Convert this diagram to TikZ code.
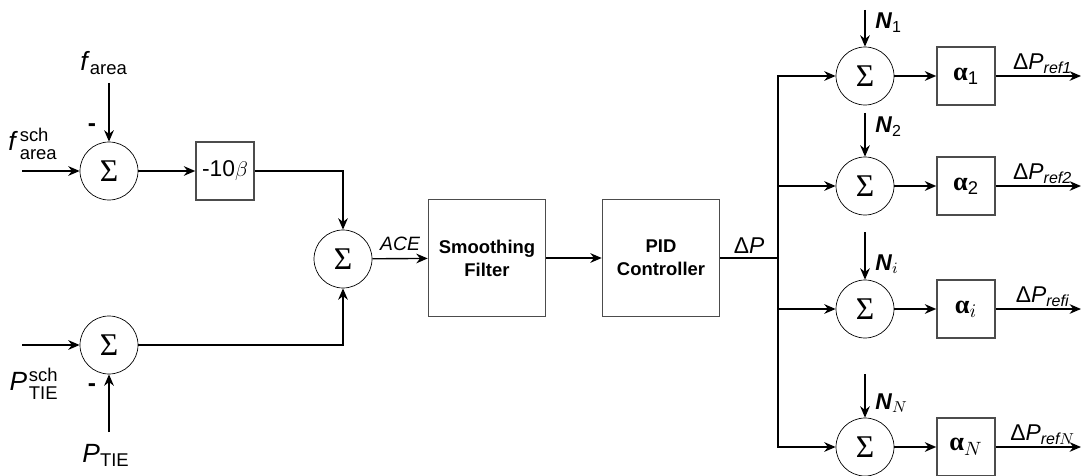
\documentclass[tikz,border=0pt]{standalone}
\usepackage{amsmath,amssymb}
\usepackage{fontspec}
\setmainfont{Liberation Sans}
\newfontfamily\serifgr{Liberation Serif}
\usepackage{tikz}
\usetikzlibrary{arrows.meta}

\begin{document}
\begin{tikzpicture}[>={Stealth[length=6.5pt,width=5.5pt]},x=0.02cm,y=-0.02cm,
  sumc/.style={draw,circle,minimum size=1.16cm,inner sep=0pt,
    font=\serifgr\fontsize{18}{20}\selectfont},
  blk/.style={draw=black!70,line width=0.9pt,minimum size=1.16cm,inner sep=0pt},
  bigblk/.style={draw=black!70,line width=0.9pt,minimum size=2.34cm,inner sep=0pt,
    align=center,font=\fontsize{10.5}{13}\selectfont\bfseries},
  sig/.style={->,line width=0.8pt},
  wire/.style={line width=0.8pt},
  lab/.style={font=\fontsize{15}{17}\selectfont,inner sep=0pt},
  slab/.style={font=\fontsize{13}{15}\selectfont,inner sep=0pt},
  gain/.style={blk,font=\fontsize{15}{17}\selectfont}]
  \useasboundingbox (0,0) rectangle (1081,476);
  % area control error part
  \node[sumc] (sumF) at (109,171) {Σ};
  \node[sumc] (sumP) at (109,345) {Σ};
  \node[sumc] (sumA) at (343,259) {Σ};
  \node[blk,font=\fontsize{13}{15}\selectfont] (gainB) at (225,171) {-10$\beta$};
  \node[bigblk] (filt) at (487,258) {Smoothing\\Filter};
  \node[bigblk] (pid) at (661,258) {PID\\Controller};
  \node[lab] (fArea) at (104,63) {\textit{f}$_{\text{area}}$};
  \node[lab] (fSch) at (33,144) {\textit{f}\kern1pt$^{\text{sch}}_{\text{\raisebox{-1.5pt}{area}}}$};
  \node[lab] (pSch) at (34,384) {\textit{P}\kern1pt$^{\text{sch}}_{\text{\raisebox{-1.5pt}{TIE}}}$};
  \node[lab] (pTie) at (106,455) {\textit{P}$_{\text{TIE}}$};
  \node[slab,font=\fontsize{14}{16}\selectfont\bfseries] (mF) at (92,128) {-};
  \node[slab,font=\fontsize{14}{16}\selectfont\bfseries] (mP) at (92,388) {-};
  \coordinate (inF) at (22,171);
  \coordinate (inP) at (22,345);
  \coordinate (fIn) at (109,83);
  \coordinate (pIn) at (109,432);
  \draw[sig] (inF) -- (sumF);
  \draw[sig] (fIn) -- (sumF);
  \draw[sig] (sumF) -- (gainB);
  \draw[sig] (gainB) -| (sumA);
  \draw[sig] (inP) -- (sumP);
  \draw[sig] (pIn) -- (sumP);
  \draw[sig] (sumP) -| (sumA);
  \draw[sig] (sumA) -- node[above=1pt,font=\itshape\fontsize{11}{13}\selectfont]{ACE} (filt);
  \draw[sig] (filt) -- (pid);
  % participation of the N units
  \node[sumc] (sum1) at (865,76) {Σ};
  \node[sumc] (sum2) at (865,186) {Σ};
  \node[sumc] (sumi) at (865,309) {Σ};
  \node[sumc] (sumN) at (865,447) {Σ};
  \node[gain] (al1) at (966,76) {{\serifgr\bfseries α}$_{\text{1}}$};
  \node[gain] (al2) at (966,186) {{\serifgr\bfseries α}$_{\text{2}}$};
  \node[gain] (ali) at (966,309) {{\serifgr\bfseries α}$_{i}$};
  \node[gain] (alN) at (966,447) {{\serifgr\bfseries α}$_{N}$};
  \node[slab,anchor=west] (lN1) at (875,23) {\textbf{\textit{N}}$_{\text{1}}$};
  \node[slab,anchor=west] (lN2) at (875,127) {\textbf{\textit{N}}$_{\text{2}}$};
  \node[slab,anchor=west] (lNi) at (875,264) {\textbf{\textit{N}}$_{i}$};
  \node[slab,anchor=west] (lNN) at (875,403) {\textbf{\textit{N}}$_{N}$};
  \coordinate (split) at (778,258);
  \coordinate (n1) at (865,10);
  \coordinate (n2) at (865,113);
  \coordinate (ni) at (865,232);
  \coordinate (nN) at (865,374);
  \coordinate (o1) at (1081,76);
  \coordinate (o2) at (1081,186);
  \coordinate (oi) at (1081,309);
  \coordinate (oN) at (1081,447);
  \draw[wire] (pid) -- node[above=2pt,slab]{Δ\textit{P}} (split);
  \draw[sig] (split) |- (sum1);
  \draw[sig] (split) |- (sum2);
  \draw[sig] (split) |- (sumi);
  \draw[sig] (split) |- (sumN);
  \draw[sig] (n1) -- (sum1);
  \draw[sig] (n2) -- (sum2);
  \draw[sig] (ni) -- (sumi);
  \draw[sig] (nN) -- (sumN);
  \draw[sig] (sum1) -- (al1);
  \draw[sig] (sum2) -- (al2);
  \draw[sig] (sumi) -- (ali);
  \draw[sig] (sumN) -- (alN);
  \draw[sig] (al1) -- node[above=1pt,pos=0.55,slab]{Δ\textit{P}$_{\textit{ref1}}$} (o1);
  \draw[sig] (al2) -- node[above=1pt,pos=0.55,slab]{Δ\textit{P}$_{\textit{ref2}}$} (o2);
  \draw[sig] (ali) -- node[above=1pt,pos=0.55,slab]{Δ\textit{P}$_{\textit{refi}}$} (oi);
  \draw[sig] (alN) -- node[above=1pt,pos=0.55,slab]{Δ\textit{P}$_{\textit{ref}N}$} (oN);
\end{tikzpicture}
\end{document}
